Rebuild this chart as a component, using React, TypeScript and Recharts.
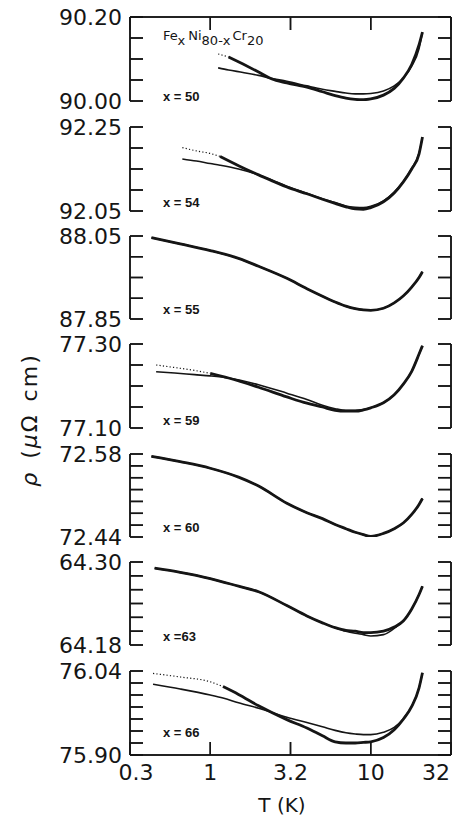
import React from 'react';
import { LineChart, Line, XAxis, YAxis } from 'recharts';

// temperature axis (log scale), K
const T_TICKS = [0.3162, 1, 3.162, 10, 31.62];
const T_TICK_LABELS = ['0.3', '1', '3.2', '10', '32'];

// x = 50
const T50 = [1.12, 1.3, 1.6, 2.0, 2.4, 3.0, 4.0, 5.0, 6.0, 7.0, 8.0, 9.0, 10, 12, 14, 16, 18, 20, 21];
const RHO50 = [90.112, 90.105, 90.088, 90.069, 90.053, 90.043, 90.033, 90.022, 90.013, 90.007, 90.004, 90.003, 90.005, 90.014, 90.03, 90.055, 90.087, 90.134, 90.164];
const FIT50 = [90.079, 90.074, 90.068, 90.061, 90.054, 90.047, 90.036, 90.028, 90.023, 90.019, 90.017, 90.017, 90.018, 90.024, 90.036, 90.055, 90.083, 90.125, 90.164];
const TICKS50 = [90.0, 90.05, 90.1, 90.15, 90.2];

// x = 54
const T54 = [0.67, 0.82, 1.0, 1.15, 1.5, 2.0, 2.5, 3.0, 4, 5, 6, 7, 8, 9, 10, 12, 14, 16, 18, 20, 21];
const RHO54 = [92.201, 92.193, 92.187, 92.18, 92.158, 92.136, 92.12, 92.107, 92.091, 92.078, 92.068, 92.06, 92.055, 92.054, 92.058, 92.072, 92.093, 92.12, 92.15, 92.186, 92.226];
const FIT54 = [92.174, 92.169, 92.163, 92.159, 92.15, 92.136, 92.121, 92.109, 92.092, 92.079, 92.07, 92.062, 92.059, 92.058, 92.061, 92.074, 92.095, 92.121, 92.152, 92.188, 92.226];
const TICKS54 = [92.05, 92.1, 92.15, 92.2, 92.25];

// x = 55
const T55 = [0.43, 0.65, 1.0, 1.5, 2.0, 3.0, 4, 5, 6, 7, 8, 9, 10, 12, 14, 16, 18, 20, 21];
const RHO55 = [88.046, 88.031, 88.015, 87.996, 87.977, 87.948, 87.923, 87.905, 87.891, 87.881, 87.875, 87.872, 87.871, 87.876, 87.889, 87.906, 87.927, 87.95, 87.964];
const FIT55 = [88.046, 88.031, 88.015, 87.996, 87.977, 87.948, 87.923, 87.905, 87.891, 87.881, 87.875, 87.872, 87.871, 87.876, 87.889, 87.906, 87.927, 87.95, 87.964];
const TICKS55 = [87.85, 87.9, 87.95, 88.0, 88.05];

// x = 59
const T59 = [0.46, 0.6, 0.8, 1.0, 1.3, 2, 3, 4, 5, 6, 7, 8, 9, 10, 12, 14, 16, 18, 20, 21];
const RHO59 = [77.25, 77.244, 77.237, 77.23, 77.219, 77.197, 77.174, 77.159, 77.15, 77.142, 77.14, 77.14, 77.143, 77.148, 77.16, 77.179, 77.205, 77.235, 77.276, 77.296];
const FIT59 = [77.234, 77.231, 77.227, 77.224, 77.219, 77.203, 77.183, 77.168, 77.154, 77.146, 77.142, 77.142, 77.144, 77.148, 77.16, 77.179, 77.205, 77.235, 77.276, 77.296];
const TICKS59 = [77.1, 77.15, 77.2, 77.25, 77.3];

// x = 60
const T60 = [0.43, 0.65, 1.0, 1.5, 2.0, 3.0, 4, 5, 6, 7, 8, 9, 10, 12, 14, 16, 18, 20, 21];
const RHO60 = [72.576, 72.567, 72.556, 72.541, 72.526, 72.497, 72.481, 72.471, 72.461, 72.454, 72.448, 72.444, 72.441, 72.446, 72.454, 72.464, 72.478, 72.495, 72.505];
const FIT60 = [72.576, 72.567, 72.556, 72.541, 72.526, 72.497, 72.481, 72.471, 72.461, 72.454, 72.448, 72.444, 72.441, 72.446, 72.454, 72.464, 72.478, 72.495, 72.505];
const TICKS60 = [72.44, 72.46, 72.48, 72.5, 72.52, 72.54, 72.56, 72.58];

// x = 63
const T63 = [0.45, 0.65, 1.0, 1.5, 2.0, 3.0, 4, 5, 6, 7, 8, 9, 10, 12, 14, 16, 18, 20, 21];
const RHO63 = [64.291, 64.285, 64.276, 64.265, 64.257, 64.237, 64.222, 64.212, 64.205, 64.201, 64.2, 64.198, 64.198, 64.2, 64.206, 64.215, 64.232, 64.253, 64.265];
const FIT63 = [64.291, 64.285, 64.276, 64.265, 64.257, 64.237, 64.222, 64.212, 64.205, 64.2, 64.197, 64.195, 64.193, 64.195, 64.204, 64.215, 64.232, 64.253, 64.265];
const TICKS63 = [64.18, 64.2, 64.22, 64.24, 64.26, 64.28, 64.3];

// x = 66
const T66 = [0.44, 0.65, 1.0, 1.2, 1.5, 2.0, 3.0, 4, 5, 6, 7, 8, 9, 10, 12, 14, 16, 18, 20, 21];
const RHO66 = [76.036, 76.03, 76.022, 76.014, 76.001, 75.982, 75.959, 75.945, 75.932, 75.922, 75.92, 75.92, 75.921, 75.922, 75.929, 75.942, 75.96, 75.981, 76.012, 76.037];
const FIT66 = [76.018, 76.01, 76.0, 75.995, 75.987, 75.978, 75.963, 75.954, 75.947, 75.941, 75.937, 75.935, 75.934, 75.934, 75.938, 75.946, 75.961, 75.981, 76.012, 76.037];
const TICKS66 = [75.9, 75.92, 75.94, 75.96, 75.98, 76.0, 76.02, 76.04];

// sparse (dotted) measurement runs up to dotsTo
const PANELS = [
  { label: 'x = 50', t: T50, rho: RHO50, fit: FIT50, ticks: TICKS50, dotsTo: 1.3 },
  { label: 'x = 54', t: T54, rho: RHO54, fit: FIT54, ticks: TICKS54, dotsTo: 1.15 },
  { label: 'x = 55', t: T55, rho: RHO55, fit: FIT55, ticks: TICKS55, dotsTo: 0.43 },
  { label: 'x = 59', t: T59, rho: RHO59, fit: FIT59, ticks: TICKS59, dotsTo: 1.0 },
  { label: 'x = 60', t: T60, rho: RHO60, fit: FIT60, ticks: TICKS60, dotsTo: 0.43 },
  { label: 'x =63', t: T63, rho: RHO63, fit: FIT63, ticks: TICKS63, dotsTo: 0.45 },
  { label: 'x = 66', t: T66, rho: RHO66, fit: FIT66, ticks: TICKS66, dotsTo: 1.2 },
];

// layout, px (charts are stacked in normal flow, one band each)
const PAGE_W = 453;
const PLOT_X0 = 130;
const PLOT_X1 = 451;
const BAND = [0, 114, 223, 331, 441, 549, 658, 816];
const PANEL_TOP = [17, 127, 236, 344, 454, 562, 671];
const PANEL_H = [84, 84, 83, 84, 83, 83, 84];
const BOTTOM_AXIS_H = 55;
const LABEL_BASE = [101, 207, 314, 425, 532, 641, 737];
const TICK_LEN = 13;
const INK = '#151515';
const FONT = '"DejaVu Sans", Verdana, sans-serif';
const AXIS_STROKE = { stroke: INK, strokeWidth: 1.5 };

// frame ticks for the overlay (same positions as the axes' own ticks)
const logPos = (t: number) => {
  const a = Math.log10(T_TICKS[0]);
  const b = Math.log10(T_TICKS[T_TICKS.length - 1]);
  return PLOT_X0 + ((Math.log10(t) - a) / (b - a)) * (PLOT_X1 - PLOT_X0);
};

function Panel({ idx }: { idx: number }) {
  const p = PANELS[idx];
  const first = idx === 0;
  const last = idx === PANELS.length - 1;
  const h = PANEL_H[idx];
  const mTop = PANEL_TOP[idx] - BAND[idx];
  const chartH = BAND[idx + 1] - BAND[idx];
  const lo = p.ticks[0];
  const hi = p.ticks[p.ticks.length - 1];
  const rows = p.t.map((t, i) => ({
    t,
    fit: p.fit[i],
    meas: t >= p.dotsTo ? p.rho[i] : null,
    dots: t <= p.dotsTo ? p.rho[i] : null,
  }));

  // only the end values carry a number
  const yLabel = (props: any) => {
    const { y, payload } = props;
    const v = payload.value;
    if (v !== lo && v !== hi) return <g />;
    return (
      <text x={122} y={y + 8} textAnchor="end" fontSize={22} fontFamily={FONT} fill={INK}>
        {v.toFixed(2)}
      </text>
    );
  };

  const xLabel = (props: any) => {
    const { x, index } = props;
    if (!last) return <g />;
    const dx = index === 0 ? 6 : index === T_TICKS.length - 1 ? -15 : 0;
    return (
      <text x={x + dx} y={mTop + h + 25} textAnchor="middle" fontSize={22} fontFamily={FONT} fill={INK}>
        {T_TICK_LABELS[index]}
      </text>
    );
  };

  return (
    <LineChart
      width={PAGE_W}
      height={chartH}
      data={rows}
      margin={{
        top: first ? mTop - 1 : mTop,
        right: 0,
        bottom: last ? chartH - mTop - h - BOTTOM_AXIS_H : chartH - mTop - h,
        left: 0,
      }}
    >
      <XAxis
        dataKey="t"
        type="number"
        scale="log"
        domain={[T_TICKS[0], T_TICKS[T_TICKS.length - 1]]}
        allowDataOverflow
        ticks={T_TICKS}
        interval={0}
        hide={!first && !last}
        orientation={first ? 'top' : 'bottom'}
        height={first ? 1 : BOTTOM_AXIS_H}
        axisLine={AXIS_STROKE}
        tickLine={AXIS_STROKE}
        tickSize={-TICK_LEN}
        tick={xLabel}
      />
      <YAxis
        type="number"
        domain={[lo, hi]}
        allowDataOverflow
        ticks={p.ticks}
        interval={0}
        width={PLOT_X0}
        axisLine={AXIS_STROKE}
        tickLine={AXIS_STROKE}
        tickSize={-TICK_LEN}
        tick={yLabel}
      />
      <YAxis
        yAxisId="r"
        orientation="right"
        type="number"
        domain={[lo, hi]}
        allowDataOverflow
        ticks={p.ticks}
        interval={0}
        width={PAGE_W - PLOT_X1}
        axisLine={AXIS_STROKE}
        tickLine={AXIS_STROKE}
        tickSize={-TICK_LEN}
        tick={() => <g />}
      />
      <Line dataKey="fit" type="monotone" stroke={INK} strokeWidth={1.6} dot={false} isAnimationActive={false} />
      <Line dataKey="meas" type="monotone" stroke={INK} strokeWidth={2.8} dot={false} isAnimationActive={false} />
      <Line
        yAxisId="r"
        dataKey="dots"
        type="monotone"
        stroke={INK}
        strokeWidth={1.2}
        strokeDasharray="1.2 2.2"
        dot={false}
        isAnimationActive={false}
      />
    </LineChart>
  );
}

// bracket frame of each panel: tick marks on both sides, closed top and bottom
function Frames() {
  const last = PANELS.length - 1;
  return (
    <g stroke={INK} strokeWidth={1.5} fill="none">
      {PANELS.map((p, i) => {
        const top = PANEL_TOP[i];
        const h = PANEL_H[i];
        const lo = p.ticks[0];
        const hi = p.ticks[p.ticks.length - 1];
        return (
          <g key={p.label}>
            <line x1={PLOT_X0} x2={PLOT_X0} y1={top} y2={top + h} />
            <line x1={PLOT_X1} x2={PLOT_X1} y1={top} y2={top + h} />
            {p.ticks.map((v) => {
              const y = top + h - ((v - lo) / (hi - lo)) * h;
              return (
                <g key={v}>
                  <line x1={PLOT_X0} x2={PLOT_X0 + TICK_LEN} y1={y} y2={y} />
                  <line x1={PLOT_X1 - TICK_LEN} x2={PLOT_X1} y1={y} y2={y} />
                </g>
              );
            })}
          </g>
        );
      })}
      <line x1={PLOT_X0} x2={PLOT_X1} y1={PANEL_TOP[0]} y2={PANEL_TOP[0]} />
      <line x1={PLOT_X0} x2={PLOT_X1} y1={PANEL_TOP[last] + PANEL_H[last]} y2={PANEL_TOP[last] + PANEL_H[last]} />
      {T_TICKS.slice(1, -1).map((t) => {
        const x = logPos(t);
        const yb = PANEL_TOP[last] + PANEL_H[last];
        return (
          <g key={t}>
            <line x1={x} x2={x} y1={PANEL_TOP[0]} y2={PANEL_TOP[0] + TICK_LEN} />
            <line x1={x} x2={x} y1={yb} y2={yb - TICK_LEN} />
          </g>
        );
      })}
    </g>
  );
}

export default function App() {
  return (
    <div style={{ position: 'relative', width: PAGE_W, height: BAND[BAND.length - 1], background: '#fff' }}>
      <style>{'html,body{margin:0;padding:0;overflow:hidden;}'}</style>
      {PANELS.map((_, i) => (
        <Panel key={i} idx={i} />
      ))}
      <svg
        width={PAGE_W}
        height={BAND[BAND.length - 1]}
        style={{ position: 'absolute', left: 0, top: 0, pointerEvents: 'none' }}
        fontFamily={FONT}
        fill={INK}
      >
        <Frames />
        <text x={163} y={40} fontSize={13}>
          Fe<tspan dy={5}>x</tspan>
          <tspan dy={-5} dx={3}>Ni</tspan>
          <tspan dy={5}>80-x</tspan>
          <tspan dy={-5} dx={2}>Cr</tspan>
          <tspan dy={5}>20</tspan>
        </text>
        {PANELS.map((p, i) => (
          <text
            key={p.label}
            x={163}
            y={LABEL_BASE[i]}
            fontSize={13}
            fontWeight="bold"
            fontFamily='"Liberation Sans", Arial, sans-serif'
          >
            {p.label}
          </text>
        ))}
        <text transform="translate(37, 420) rotate(-90)" textAnchor="middle" fontSize={22} letterSpacing={2}>
          <tspan fontStyle="italic">ρ</tspan>
          <tspan dx={12}>(</tspan>
          <tspan fontStyle="italic">μ</tspan>
          <tspan>Ω</tspan>
          <tspan dx={12}>cm)</tspan>
        </text>
        <text x={282} y={812} textAnchor="middle" fontSize={20}>
          T (K)
        </text>
      </svg>
    </div>
  );
}
